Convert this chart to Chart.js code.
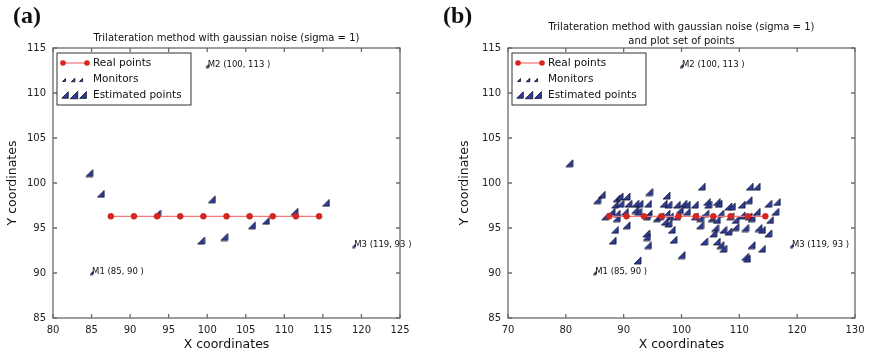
<!DOCTYPE html>
<html><head><meta charset="utf-8">
<script src="https://cdn.jsdelivr.net/npm/chart.js@4.4.1/dist/chart.umd.min.js"></script>
<style>
html,body{margin:0;padding:0;background:#fff;}
#wrap{width:871px;height:358px;display:flex;}
canvas{display:block;}
</style></head><body>
<div id="wrap"><canvas id="chartA" width="435" height="358"></canvas><canvas id="chartB" width="436" height="358"></canvas></div>
<script>
/* ============ DATA ============ */
const realX = [87.5, 90.5, 93.5, 96.5, 99.5, 102.5, 105.5, 108.5, 111.5, 114.5];
const realY = [96.3, 96.3, 96.3, 96.3, 96.3, 96.3, 96.3, 96.3, 96.3, 96.3];
const monitorX = [85, 100, 119];
const monitorY = [90, 113, 93];
const monitorLabels = ['M1 (85, 90 )', 'M2 (100, 113 )', 'M3 (119, 93 )'];

// (a) one estimate per real point
const estAX = [84.7, 86.2, 93.5, 99.2, 100.6, 102.2, 105.8, 107.6, 111.3, 115.4];
const estAY = [101.1, 98.8, 96.6, 93.6, 98.2, 94.0, 95.3, 95.8, 96.8, 97.8];

// (b) set of points
const estBX = [80.6, 86.2, 85.4, 88.8, 89.3, 90.5, 94.4, 97.4, 88.5, 89.4, 90.8, 92.0, 92.7, 94.2, 96.9, 97.7, 99.2, 100.3,
  87.9, 88.8, 90.2, 92.0, 92.5, 94.3, 95.7, 96.3, 97.4, 98.0, 99.2, 86.8, 88.8, 94.0, 97.1, 97.7, 88.5, 90.5, 93.9, 94.0,
  98.3, 88.1, 98.6, 100.0, 92.4, 94.2,
  103.5, 111.8, 113.0, 111.6, 100.9, 102.3, 104.4, 104.6, 106.1, 106.4, 108.1, 108.7, 110.4, 115.0, 116.5, 99.7, 100.9,
  102.3, 103.2, 104.1, 105.2, 106.1, 106.7, 108.4, 109.3, 110.4, 111.6, 112.1, 113.0, 115.3, 116.2, 103.2, 105.8, 105.5,
  107.2, 108.1, 109.3, 111.0, 113.3, 113.9, 115.0, 103.9, 106.1, 106.7, 107.2, 112.1, 111.0, 111.3, 113.9];
const estBY = [102.2, 98.7, 98.1, 98.3, 98.5, 98.5, 99.0, 98.6, 97.6, 97.7, 97.7, 97.7, 97.7, 97.7, 97.7, 97.6, 97.6, 97.7,
  96.8, 96.6, 96.8, 97.0, 96.8, 96.6, 96.1, 96.3, 96.6, 96.3, 96.3, 96.3, 96.1, 96.3, 95.7, 95.5, 94.8, 95.3, 94.4, 94.0,
  94.8, 93.6, 93.7, 92.0, 91.4, 93.1,
  99.6, 99.6, 99.6, 98.1, 97.6, 97.6, 97.9, 97.6, 97.9, 97.7, 97.4, 97.4, 97.6, 97.7, 97.9, 97.0, 96.8,
  96.3, 96.1, 96.6, 96.1, 95.9, 96.6, 96.3, 95.9, 96.4, 96.3, 96.1, 96.8, 95.9, 96.8, 95.3, 95.0, 94.4,
  94.8, 94.6, 95.1, 95.0, 95.0, 94.8, 94.4, 93.5, 93.5, 93.1, 92.7, 93.1, 91.8, 91.6, 92.7];

const xTicksA = [80, 85, 90, 95, 100, 105, 110, 115, 120, 125];
const xTicksB = [70, 80, 90, 100, 110, 120, 130];
const yTicks = [85, 90, 95, 100, 105, 110, 115];

const FONT = '"DejaVu Sans", sans-serif';
const NAVY = '#2e3d98';

/* ============ MARKERS ============ */
function triCanvas(size) {
  const c = document.createElement('canvas');
  c.width = size + 2; c.height = size + 2;
  const g = c.getContext('2d');
  g.beginPath(); g.moveTo(1, size + 1); g.lineTo(size + 1, size + 1); g.lineTo(size + 1, 1); g.closePath();
  g.fillStyle = NAVY; g.fill();
  g.strokeStyle = '#10122e'; g.lineWidth = 0.8; g.stroke();
  return c;
}
const bigTri = triCanvas(7);
const smallTri = triCanvas(3);

function drawTri(ctx, cx, cy, s) {
  ctx.beginPath();
  ctx.moveTo(cx - s / 2, cy + s / 2); ctx.lineTo(cx + s / 2, cy + s / 2); ctx.lineTo(cx + s / 2, cy - s / 2); ctx.closePath();
  ctx.fillStyle = NAVY; ctx.fill();
  ctx.strokeStyle = '#10122e'; ctx.lineWidth = 0.8; ctx.stroke();
}

/* ============ DECOR PLUGIN (frame, ticks, titles, legend, labels) ============ */
const decor = {
  id: 'decor',
  afterDraw(chart, args, o) {
    const { ctx, chartArea: a, scales: { x, y } } = chart;
    ctx.save();
    // frame + inward ticks
    ctx.strokeStyle = '#6b6b6b'; ctx.lineWidth = 1.3;
    ctx.strokeRect(a.left, a.top, a.right - a.left, a.bottom - a.top);
    ctx.beginPath();
    x.ticks.forEach(t => {
      const px = x.getPixelForValue(t.value);
      ctx.moveTo(px, a.bottom); ctx.lineTo(px, a.bottom - 4);
      ctx.moveTo(px, a.top); ctx.lineTo(px, a.top + 4);
    });
    y.ticks.forEach(t => {
      const py = y.getPixelForValue(t.value);
      ctx.moveTo(a.left, py); ctx.lineTo(a.left + 4, py);
      ctx.moveTo(a.right, py); ctx.lineTo(a.right - 4, py);
    });
    ctx.stroke();

    // panel label
    ctx.fillStyle = '#111';
    ctx.font = 'bold 24px "Liberation Serif", serif';
    ctx.textAlign = 'left'; ctx.textBaseline = 'top';
    ctx.fillText(o.panel, o.panelX, 5);

    // title
    const cx = (a.left + a.right) / 2;
    ctx.font = '10px ' + FONT;
    ctx.textAlign = 'center'; ctx.textBaseline = 'middle';
    o.title.forEach((line, i) => ctx.fillText(line, cx, o.titleY + i * 14));

    // axis titles
    ctx.font = '12.5px ' + FONT;
    ctx.fillText('X coordinates', cx, 345);
    ctx.save();
    ctx.translate(o.yTitleX, (a.top + a.bottom) / 2);
    ctx.rotate(-Math.PI / 2);
    ctx.fillText('Y coordinates', 0, 0);
    ctx.restore();

    // monitor labels
    ctx.font = '8.5px ' + FONT;
    ctx.textAlign = 'left'; ctx.textBaseline = 'alphabetic';
    monitorX.forEach((mx, i) => {
      ctx.fillText(monitorLabels[i], x.getPixelForValue(mx) + 0.5, y.getPixelForValue(monitorY[i]) + 1);
    });

    // legend
    const lx = a.left + 4, ly = a.top + 5;
    ctx.fillStyle = '#fff'; ctx.fillRect(lx, ly, 134, 52);
    ctx.strokeStyle = '#333'; ctx.lineWidth = 1; ctx.strokeRect(lx, ly, 134, 52);
    const r1 = a.top + 15, r2 = a.top + 31, r3 = a.top + 47;
    ctx.strokeStyle = '#f47a7a'; ctx.lineWidth = 1.3;
    ctx.beginPath(); ctx.moveTo(a.left + 10, r1); ctx.lineTo(a.left + 34, r1); ctx.stroke();
    [a.left + 10, a.left + 34].forEach(px => {
      ctx.beginPath(); ctx.arc(px, r1, 2.8, 0, Math.PI * 2);
      ctx.fillStyle = '#d9241f'; ctx.fill();
    });
    [[a.left + 11, 3], [a.left + 20, 3.6], [a.left + 28, 3.2]].forEach(([px, s]) => drawTri(ctx, px, r2 + 1, s));
    [[a.left + 12, 6.5], [a.left + 21, 7.5], [a.left + 30, 6.8]].forEach(([px, s]) => drawTri(ctx, px, r3, s));
    ctx.fillStyle = '#111';
    ctx.font = '10.5px ' + FONT;
    ctx.textAlign = 'left'; ctx.textBaseline = 'middle';
    ctx.fillText('Real points', a.left + 40, r1);
    ctx.fillText('Monitors', a.left + 40, r2);
    ctx.fillText('Estimated points', a.left + 40, r3);
    ctx.restore();
  }
};

/* ============ CHARTS ============ */
function makeChart(id, estX, estY, xTicks, cfg) {
  const toPts = (xs, ys) => xs.map((v, i) => ({ x: v, y: ys[i] }));
  const tickFont = { family: FONT, size: 10 };
  return new Chart(document.getElementById(id), {
    type: 'scatter',
    data: {
      datasets: [
        { label: 'Real points', data: toPts(realX, realY), showLine: true,
          borderColor: '#f47a7a', borderWidth: 1.3,
          pointBackgroundColor: '#d9241f', pointBorderColor: '#c01e1a', pointBorderWidth: 0.5, pointRadius: 3 },
        { label: 'Monitors', data: toPts(monitorX, monitorY), pointStyle: smallTri },
        { label: 'Estimated points', data: toPts(estX, estY), pointStyle: bigTri }
      ]
    },
    options: {
      responsive: false,
      animation: false,
      layout: { padding: { top: 48, right: cfg.padRight, left: 0, bottom: 0 } },
      plugins: {
        legend: { display: false },
        tooltip: { enabled: false },
        decor: cfg.decor
      },
      scales: {
        x: {
          type: 'linear', min: xTicks[0], max: xTicks[xTicks.length - 1],
          afterBuildTicks: s => { s.ticks = xTicks.map(v => ({ value: v })); },
          afterFit: s => { s.height = 40; },
          grid: { display: false, drawTicks: false }, border: { display: false },
          ticks: { padding: 6, color: '#222', font: tickFont, maxRotation: 0 }
        },
        y: {
          type: 'linear', min: yTicks[0], max: yTicks[yTicks.length - 1],
          afterBuildTicks: s => { s.ticks = yTicks.map(v => ({ value: v })); },
          afterFit: s => { s.width = cfg.yWidth; },
          grid: { display: false, drawTicks: false }, border: { display: false },
          ticks: { padding: 7, color: '#222', font: tickFont }
        }
      }
    },
    plugins: [decor]
  });
}

makeChart('chartA', estAX, estAY, xTicksA, {
  padRight: 35, yWidth: 53,
  decor: { panel: '(a)', panelX: 13, title: ['Trilateration method with gaussian noise (sigma = 1)'], titleY: 38, yTitleX: 13 }
});
makeChart('chartB', estBX, estBY, xTicksB, {
  padRight: 16, yWidth: 73,
  decor: { panel: '(b)', panelX: 8, title: ['Trilateration method with gaussian noise (sigma = 1)', 'and plot set of points'], titleY: 27, yTitleX: 30 }
});
</script></body></html>
